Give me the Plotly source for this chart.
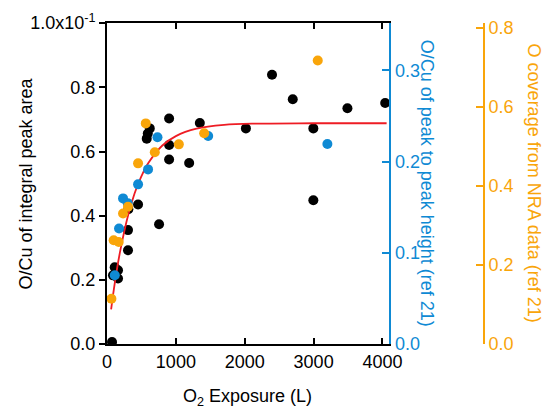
import plotly.graph_objects as go

# ---- data ----
black_x = [73, 112, 160, 87, 160, 305, 305, 310, 451, 756, 577, 592, 621, 902, 902, 902,
           1193, 1348, 2017, 2396, 2697, 2996, 2996, 3491, 4039]
black_y = [0.006, 0.239, 0.230, 0.214, 0.204, 0.292, 0.355, 0.420, 0.435, 0.373, 0.640, 0.656,
           0.672, 0.703, 0.620, 0.575, 0.564, 0.689, 0.672, 0.839, 0.763, 0.672, 0.448, 0.735, 0.751]

blue_x = [113, 175, 233, 301, 451, 596, 733, 1469, 3200]
blue_y = [0.0753, 0.1266, 0.1596, 0.1544, 0.175, 0.1914, 0.2266, 0.228, 0.2192]

orange_x = [64, 97, 170, 233, 305, 451, 563, 694, 1043, 1411, 3060]
orange_y = [0.1146, 0.2624, 0.258, 0.330, 0.347, 0.457, 0.558, 0.485, 0.505, 0.533, 0.717]

fit_x = [60, 100, 150, 200, 300, 400, 500, 600, 800, 1000, 1300, 1700, 2200, 3000, 4060]
fit_y = [0.108, 0.171, 0.240, 0.299, 0.396, 0.469, 0.523, 0.564, 0.618, 0.648, 0.671, 0.683,
         0.687, 0.688, 0.688]

x_ticks = [0, 1000, 2000, 3000, 4000]
left_ticks = [0.0, 0.2, 0.4, 0.6, 0.8, 1.0]
left_ticktext = ["0.0", "0.2", "0.4", "0.6", "0.8", "1.0x10<sup>-1</sup>"]
blue_ticks = [0.0, 0.1, 0.2, 0.3]
orange_ticks = [0.0, 0.2, 0.4, 0.6, 0.8]

BLUE = "#0f8ad4"
ORANGE = "#f9a50a"
RED = "#ee1c24"
FONT = "Liberation Sans, Arial, sans-serif"

fig = go.Figure()
fig.add_trace(go.Scatter(x=black_x, y=black_y, mode="markers",
                         marker=dict(color="black", size=10), yaxis="y", showlegend=False))
fig.add_trace(go.Scatter(x=fit_x, y=fit_y, mode="lines", line=dict(color=RED, width=1.8, shape="spline"),
                         yaxis="y", showlegend=False))
fig.add_trace(go.Scatter(x=blue_x, y=blue_y, mode="markers",
                         marker=dict(color=BLUE, size=10), yaxis="y2", showlegend=False))
fig.add_trace(go.Scatter(x=orange_x, y=orange_y, mode="markers",
                         marker=dict(color=ORANGE, size=10), yaxis="y3", showlegend=False))

fig.update_layout(
    width=543, height=408,
    margin=dict(l=107, r=59, t=23, b=64),
    paper_bgcolor="white", plot_bgcolor="white",
    font=dict(family=FONT, size=18, color="black"),
    xaxis=dict(domain=[0, 0.749], range=[0, 4100], tickvals=x_ticks,
               ticks="inside", ticklen=6, tickwidth=2, tickcolor="black",
               showline=True, linecolor="black", linewidth=2, mirror="ticks",
               showgrid=False, zeroline=False, tickfont=dict(size=18)),
    yaxis=dict(range=[0, 1.0005], tickvals=left_ticks, ticktext=left_ticktext,
               ticks="outside", ticklen=6, tickwidth=2, tickcolor="black",
               showline=True, linecolor="black", linewidth=2,
               showgrid=False, zeroline=False, tickfont=dict(size=18)),
    yaxis2=dict(overlaying="y", side="right", anchor="x", range=[0, 0.3519],
                tickvals=blue_ticks, tickformat=".1f",
                ticks="inside", ticklen=7, tickwidth=2, tickcolor=BLUE,
                showline=True, linecolor=BLUE, linewidth=2,
                showgrid=False, zeroline=False, tickfont=dict(size=18, color=BLUE)),
    yaxis3=dict(overlaying="y", side="right", anchor="free", position=1.0, range=[0, 0.812],
                tickvals=orange_ticks, tickformat=".1f",
                ticks="inside", ticklen=7, tickwidth=2, tickcolor=ORANGE,
                showline=True, linecolor=ORANGE, linewidth=2,
                showgrid=False, zeroline=False, tickfont=dict(size=18, color=ORANGE)),
    annotations=[
        dict(text="O/Cu of integral peak area", xref="paper", yref="paper",
             x=-0.2175, y=0.5, textangle=-90, showarrow=False,
             xanchor="center", yanchor="middle", font=dict(size=18, color="black")),
        dict(text="O<sub>2</sub> Exposure (L)", xref="paper", yref="paper",
             x=0.374, y=-0.168, showarrow=False,
             xanchor="center", yanchor="middle", font=dict(size=18, color="black")),
        dict(text="O/Cu of peak to peak height (ref 21)", xref="paper", yref="paper",
             x=0.851, y=0.5, textangle=90, showarrow=False,
             xanchor="center", yanchor="middle", font=dict(size=18, color=BLUE)),
        dict(text="O coverage from NRA data (ref 21)", xref="paper", yref="paper",
             x=1.135, y=0.5, textangle=90, showarrow=False,
             xanchor="center", yanchor="middle", font=dict(size=18, color=ORANGE)),
    ],
)

fig.write_html("out.html", config={"displayModeBar": False},
               post_script="document.body.style.margin='0';document.body.style.overflow='hidden';")
